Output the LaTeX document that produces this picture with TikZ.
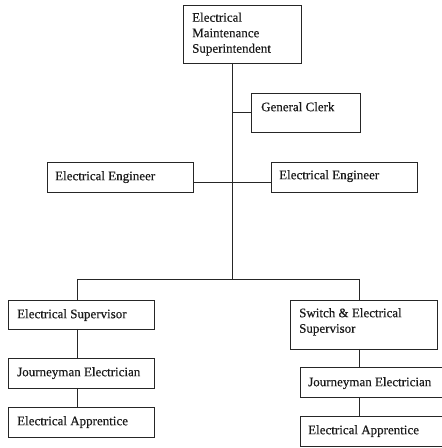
\documentclass[tikz,border=0pt]{standalone}
\usepackage{fontspec}
\setmainfont{Liberation Serif}
\newfontfamily\heavyserif[FakeBold=0.4]{Liberation Serif}
\begin{document}
\begin{tikzpicture}[x=1pt,y=1pt,
  box/.style={rectangle, draw=black!85, line width=0.9pt, inner sep=0pt, outer sep=0pt},
  txt/.style={inner sep=0pt, anchor=north west, align=left, text=black!90, font=\heavyserif\fontsize{13}{15.5}\selectfont},
  conn/.style={draw=black!85, line width=0.9pt}]
\useasboundingbox (0,0) rectangle (442,448);
% boxes
\node[box, minimum width=118pt, minimum height=58pt] (sup) at (242,414) {};
\node[box, minimum width=109pt, minimum height=39pt] (clerk) at (305.5,335.5) {};
\node[box, minimum width=146pt, minimum height=30pt] (eel) at (120,271) {};
\node[box, minimum width=146pt, minimum height=30pt] (eer) at (344,271) {};
\node[box, minimum width=146pt, minimum height=29pt] (es) at (81,133.5) {};
\node[box, minimum width=146pt, minimum height=30pt] (jel) at (81,75) {};
\node[box, minimum width=146pt, minimum height=30pt] (eal) at (81,26) {};
\node[box, minimum width=147pt, minimum height=49pt] (ses) at (363.5,123.5) {};
\node[box, minimum width=146pt, minimum height=30pt] (jer) at (373,66) {};
\node[box, minimum width=146pt, minimum height=30pt] (ear) at (373,17) {};
% texts
\node[txt] (sup-t) at (192,435.5) {Electrical\\Maintenance\\Superintendent};
\node[txt] (clerk-t) at (261,346) {General Clerk};
\node[txt] (eel-t) at (55,277) {Electrical Engineer};
\node[txt] (eer-t) at (279,278) {Electrical Engineer};
\node[txt] (es-t) at (17,139) {Electrical Supervisor};
\node[txt] (jel-t) at (17,81) {Journeyman Electrician};
\node[txt] (eal-t) at (17,32) {Electrical Apprentice};
\node[txt] (ses-t) at (299,140) {Switch \& Electrical\\Supervisor};
\node[txt] (jer-t) at (308,71) {Journeyman Electrician};
\node[txt] (ear-t) at (308,23) {Electrical Apprentice};
% junction coordinates
\coordinate (tt) at (232,169);
\coordinate (bl) at (77,169);
\coordinate (br) at (359,169);
\coordinate (ee) at (232,266);
% connectors
\draw[conn] (sup.south -| tt) -- (tt);
\draw[conn] (clerk.west -| tt) -- (clerk.west);
\draw[conn] (eel.east |- ee) -- (eer.west |- ee);
\draw[conn] (bl) -- (br);
\draw[conn] (bl) -- (es.north -| bl);
\draw[conn] (br) -- (ses.north -| br);
\draw[conn] (es.south -| bl) -- (jel.north -| bl);
\draw[conn] (jel.south -| bl) -- (eal.north -| bl);
\draw[conn] (ses.south -| br) -- (jer.north -| br);
\draw[conn] (jer.south -| br) -- (ear.north -| br);
\end{tikzpicture}
\end{document}
